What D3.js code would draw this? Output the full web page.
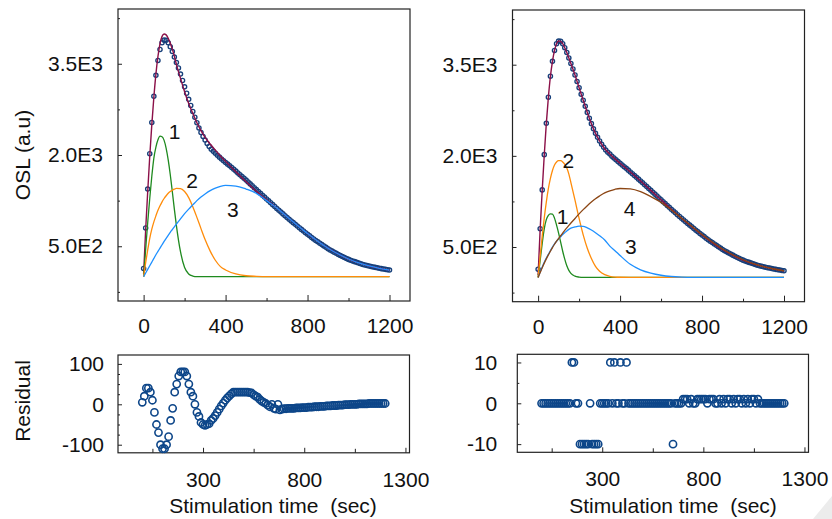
<!DOCTYPE html>
<html>
<head>
<meta charset="utf-8">
<script src="https://cdn.jsdelivr.net/npm/d3@7"></script>
<style>
body { margin: 0; background: #fff; }
text { font-family: "Liberation Sans", Arial, sans-serif; fill: #111; }
</style>
</head>
<body>
<svg width="832" height="519"></svg>
<script>
var svg = d3.select("svg"),
    width = +svg.attr("width"),
    height = +svg.attr("height");

// measured OSL, one reading every 10 s (0..1200 s)
var sampleTime = d3.range(0, 1201, 10);
var oslObserved = [
  135, 800, 1440, 2020, 2535, 2965, 3310, 3555, 3735, 3845,
  3888, 3885, 3845, 3780, 3700, 3610, 3520, 3430, 3330, 3225,
  3120, 3015, 2915, 2815, 2715, 2620, 2530, 2445, 2370, 2305,
  2245, 2190, 2140, 2095, 2060, 2030, 1995, 1965, 1935, 1905,
  1878, 1850, 1822, 1794, 1765, 1735, 1705, 1675, 1646, 1617,
  1587, 1556, 1525, 1494, 1463, 1432, 1401, 1370, 1339, 1308,
  1277, 1246, 1215, 1184, 1153, 1122, 1092, 1062, 1032, 1003,
  974, 945, 916, 888, 860, 832, 804, 777, 750, 723,
  698, 671, 644, 619, 596, 573, 550, 527, 505, 482,
  459, 438, 420, 402, 384, 366, 349, 332, 315, 298,
  284, 271, 259, 247, 235, 223, 211, 199, 191, 183,
  176, 168, 160, 153, 145, 138, 132, 126, 120, 114,
  108
];

var residualLeft = [
  5, 20, 40, 40, 30, 10, -20, -50, -70, -100,
  -110, -110, -100, -80, -40, -10, 30, 50, 70, 80,
  80, 80, 70, 50, 30, 20, 0, -20, -30, -45,
  -50, -52, -50, -48, -40, -35, -28, -20, -12, -4,
  3, 10, 16, 21, 26, 30, 30, 30, 30, 30,
  30, 30, 30, 29, 28, 24, 20, 18, 12, 8,
  5, 2, -2, -6, 0, -10, -12, 0, -14, -12,
  -11, -11, -10, -10, -10, -10, -9, -9, -9, -8,
  -8, -8, -7, -7, -7, -6, -6, -6, -5, -5,
  -5, -4, -4, -4, -3, -3, -3, -2, -2, -2,
  -1, -1, -1, 0, 0, 0, 0, 1, 1, 1,
  1, 1, 2, 2, 2, 2, 2, 2, 2, 2,
  2
];

var residualRight = [
  0, 0, 0, 0, 0, 0, 0, 0, 0, 0,
  0, 0, 0, 0, 0, 10, 10, 0, 0, -10,
  -10, -10, -10, -10, 0, -10, -10, -10, -10, 0,
  0, 0, 0, 0, 10, 0, 10, 0, 0, 10,
  0, 0, 10, 0, 0, 0, 0, 0, 0, 0,
  0, 0, 0, 0, 0, 0, 0, 0, 0, 0,
  0, 0, 0, 0, 0, -10, 0, 0, 0, 0,
  1, 1, 1, 0, 1, 0, 0, 1, 1, 1,
  1, 1, 0, 1, 1, 1, 0, 0, 1, 0,
  1, 0, 1, 1, 0, 1, 0, 1, 1, 0,
  1, 0, 1, 0, 1, 1, 0, 1, 0, 0,
  0, 0, 0, 0, 0, 0, 0, 0, 0, 0,
  0
];

// fitted curves, read at these times
var lineTime = [0, 10, 20, 30, 40, 50, 60, 70, 80, 90, 100, 110, 120, 130, 140, 150, 160,
  180, 200, 220, 240, 260, 280, 300, 325, 350, 375, 400,
  450, 500, 550, 600, 650, 700, 750, 800, 850, 900, 950, 1000, 1050, 1100, 1150, 1200];

var fitLeft = [40, 770, 1400, 1980, 2500, 2950, 3330, 3620, 3830, 3950, 3990, 3975, 3920, 3840, 3740, 3625, 3490,
  3260, 3040, 2845, 2685, 2530, 2400, 2290, 2180, 2080, 1985, 1895,
  1725, 1560, 1405, 1265, 1130, 985, 845, 708, 582, 468, 372, 290, 226, 176, 138, 107];
var comp1Left = [0, 450, 890, 1290, 1650, 1950, 2130, 2250, 2310, 2300, 2240, 2110, 1920, 1680, 1400, 1110, 840,
  410, 150, 45, 10, 0, 0, 0, 0, 0, 0, 0,
  0, 0, 0, 0, 0, 0, 0, 0, 0, 0, 0, 0, 0, 0, 0, 0];
var comp2Left = [0, 230, 440, 630, 780, 900, 1000, 1090, 1165, 1230, 1285, 1330, 1370, 1400, 1420, 1438, 1450,
  1448, 1400, 1300, 1150, 975, 790, 610, 420, 270, 165, 110,
  45, 15, 5, 0, 0, 0, 0, 0, 0, 0, 0, 0, 0, 0, 0, 0];
var comp3Left = [0, 60, 120, 180, 240, 300, 360, 415, 470, 525, 580, 630, 680, 730, 775, 820, 865,
  950, 1035, 1110, 1180, 1250, 1310, 1360, 1415, 1455, 1485, 1500,
  1490, 1440, 1370, 1250, 1130, 985, 845, 708, 582, 468, 372, 290, 226, 176, 138, 107];

var fitRight = [40, 790, 1435, 2015, 2530, 2960, 3305, 3555, 3735, 3845, 3890, 3885, 3845, 3780, 3700, 3610, 3520,
  3330, 3120, 2915, 2715, 2530, 2370, 2245, 2117, 2030, 1950, 1878,
  1735, 1587, 1432, 1277, 1122, 974, 832, 698, 573, 459, 366, 284, 223, 176, 138, 108];
var comp1Right = [0, 280, 560, 800, 950, 1020, 1045, 1040, 975, 860, 730, 580, 430, 300, 190, 115, 65,
  20, 5, 0, 0, 0, 0, 0, 0, 0, 0, 0,
  0, 0, 0, 0, 0, 0, 0, 0, 0, 0, 0, 0, 0, 0, 0, 0];
var comp2Right = [0, 350, 680, 980, 1240, 1460, 1630, 1760, 1850, 1900, 1920, 1920, 1900, 1860, 1800, 1700, 1560,
  1270, 970, 700, 480, 310, 180, 100, 45, 18, 6, 2,
  0, 0, 0, 0, 0, 0, 0, 0, 0, 0, 0, 0, 0, 0, 0, 0];
var comp3Right = [0, 90, 170, 250, 320, 380, 440, 500, 550, 595, 635, 670, 705, 735, 765, 790, 810,
  830, 842, 840, 815, 780, 735, 685, 615, 515, 440, 360,
  215, 125, 70, 35, 15, 5, 0, 0, 0, 0, 0, 0, 0, 0, 0, 0];
var comp4Right = [0, 80, 160, 235, 305, 370, 430, 490, 545, 595, 640, 685, 730, 775, 815, 855, 895,
  970, 1045, 1115, 1180, 1240, 1295, 1340, 1390, 1425, 1450, 1463,
  1455, 1410, 1330, 1235, 1110, 975, 840, 706, 582, 468, 372, 290, 226, 176, 138, 107];

// component numbers, placed in data units
var labelsLeft = [{n: "1", t: 151, v: 2383}, {n: "2", t: 236, v: 1578}, {n: "3", t: 436, v: 1101}];
var labelsRight = [{n: "1", t: 119, v: 1005}, {n: "2", t: 148, v: 1920}, {n: "3", t: 453, v: 510}, {n: "4", t: 446, v: 1126}];

var compColors = ["#1f8a1f", "#ff8c0a", "#1e90ff", "#8b4513"];
var fitColor = "#8b1048";
var dotColor = "#163f7a";
var frameColor = "#222";

var sciFmt = d => d3.format(".1e")(d).replace("e+", "E");
var plainFmt = d => String(d);   // keep an ASCII hyphen for negatives

function styleAxis(g) {
  g.attr("font-size", 21).attr("font-family", null).attr("color", frameColor);
  g.select(".domain").remove();
}

function frame(x, y) {
  svg.append("rect")
    .attr("x", x.range()[0]).attr("y", y.range()[1])
    .attr("width", x.range()[1] - x.range()[0])
    .attr("height", y.range()[0] - y.range()[1])
    .attr("fill", "none").attr("stroke", frameColor).attr("stroke-width", 1.2);
}

function curvePanel(xRange, yRange, fit, comps, labels) {
  var x = d3.scaleLinear().domain([-125, 1300]).range(xRange);
  var y = d3.scaleLinear().domain([-400, 4400]).range(yRange);
  var x0 = xRange[0], y0 = yRange[0];

  svg.append("g").attr("transform", "translate(" + x0 + ",0)")
    .call(d3.axisLeft(y).tickValues([500, 2000, 3500]).tickSize(-4).tickPadding(15).tickFormat(sciFmt))
    .call(styleAxis);
  svg.append("g").attr("transform", "translate(" + x0 + ",0)")
    .call(d3.axisLeft(y).tickValues([-250, 1250, 2750, 4250]).tickSize(-2).tickFormat(""))
    .call(styleAxis);
  svg.append("g").attr("transform", "translate(0," + y0 + ")")
    .call(d3.axisBottom(x).tickValues([0, 400, 800, 1200]).tickSize(-6).tickPadding(17).tickFormat(plainFmt))
    .call(styleAxis);
  svg.append("g").attr("transform", "translate(0," + y0 + ")")
    .call(d3.axisBottom(x).tickValues([200, 600, 1000]).tickSize(-3).tickFormat(""))
    .call(styleAxis);

  frame(x, y);

  svg.append("g").selectAll("circle")
    .data(oslObserved)
    .join("circle")
      .attr("cx", (d, i) => x(sampleTime[i]))
      .attr("cy", d => y(d))
      .attr("r", 2.1)
      .attr("fill", "none")
      .attr("stroke", dotColor)
      .attr("stroke-width", 1.35);

  var line = d3.line()
    .x((d, i) => x(lineTime[i]))
    .y(d => y(d))
    .curve(d3.curveMonotoneX);

  svg.append("path").datum(fit)
    .attr("d", line).attr("fill", "none")
    .attr("stroke", fitColor).attr("stroke-width", 1.4);

  comps.forEach(function(c, k) {
    svg.append("path").datum(c)
      .attr("d", line).attr("fill", "none")
      .attr("stroke", compColors[k]).attr("stroke-width", 1.3);
  });

  svg.append("g").selectAll("text")
    .data(labels)
    .join("text")
      .attr("x", d => x(d.t))
      .attr("y", d => y(d.v))
      .attr("dy", "0.35em")
      .attr("text-anchor", "middle")
      .attr("font-size", 21)
      .text(d => d.n);
}

function residualPanel(xRange, yRange, yDomain, major, minor, pad, resid) {
  var x = d3.scaleLinear().domain([-120, 1320]).range(xRange);
  var y = d3.scaleLinear().domain(yDomain).range(yRange);
  var x0 = xRange[0], y0 = yRange[0];

  svg.append("g").attr("transform", "translate(" + x0 + ",0)")
    .call(d3.axisLeft(y).tickValues(major).tickSize(-4).tickPadding(pad).tickFormat(plainFmt))
    .call(styleAxis);
  svg.append("g").attr("transform", "translate(" + x0 + ",0)")
    .call(d3.axisLeft(y).tickValues(minor).tickSize(-2).tickFormat(""))
    .call(styleAxis);
  svg.append("g").attr("transform", "translate(0," + y0 + ")")
    .call(d3.axisBottom(x).tickValues([300, 800, 1300]).tickSize(-5).tickPadding(19).tickFormat(plainFmt))
    .call(styleAxis);
  svg.append("g").attr("transform", "translate(0," + y0 + ")")
    .call(d3.axisBottom(x).tickValues([50, 550, 1050]).tickSize(-4).tickFormat(""))
    .call(styleAxis);

  frame(x, y);

  svg.append("g").selectAll("circle")
    .data(resid)
    .join("circle")
      .attr("cx", (d, i) => x(sampleTime[i]))
      .attr("cy", d => y(d))
      .attr("r", 3.6)
      .attr("fill", "none")
      .attr("stroke", "#0d4689")
      .attr("stroke-width", 1.6);
}

curvePanel([118, 410], [301, 9], fitLeft, [comp1Left, comp2Left, comp3Left], labelsLeft);
curvePanel([512.5, 804.5], [301.7, 10], fitRight, [comp1Right, comp2Right, comp3Right, comp4Right], labelsRight);

residualPanel([118, 409.5], [452.8, 355], [-120, 122], [-100, 0, 100], [-75, -50, -25, 25, 50, 75], 14, residualLeft);
residualPanel([517.3, 808.5], [452.3, 354.3], [-12, 12], [-10, 0, 10], [-5, 5], 20, residualRight);

// axis titles
svg.append("text")
  .attr("transform", "translate(23,155) rotate(-90)")
  .attr("dy", "0.35em").attr("text-anchor", "middle").attr("font-size", 21)
  .text("OSL (a.u)");
svg.append("text")
  .attr("transform", "translate(23,401) rotate(-90)")
  .attr("dy", "0.35em").attr("text-anchor", "middle").attr("font-size", 21)
  .text("Residual");
[273, 673].forEach(function(cx) {
  svg.append("text")
    .attr("x", cx).attr("y", 513)
    .attr("text-anchor", "middle").attr("font-size", 21)
    .style("white-space", "pre")
    .text("Stimulation time  (sec)");
});

// page corner
svg.append("polygon")
  .attr("points", "813,519 832,519 832,496")
  .attr("fill", "#ececec");
</script>
</body>
</html>
